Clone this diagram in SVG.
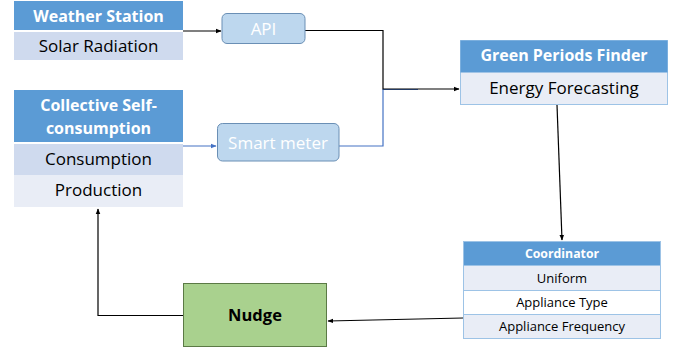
<svg xmlns="http://www.w3.org/2000/svg" width="681" height="347" viewBox="0 0 681 347">
<defs>
<style>
.hd{fill:#5b9bd5}
.r1{fill:#cfdaee}
.r2{fill:#e9edf6}
.t{font-family:"Open Sans","Liberation Sans",sans-serif;font-size:17px;fill:#000;text-anchor:middle}
.tb{font-family:"Open Sans","Liberation Sans",sans-serif;font-size:16px;font-weight:bold;fill:#fff;text-anchor:middle}
.ts{font-family:"Open Sans","Liberation Sans",sans-serif;font-size:13px;fill:#000;text-anchor:middle}
.tsb{font-family:"Open Sans","Liberation Sans",sans-serif;font-size:12.3px;font-weight:bold;fill:#fff;text-anchor:middle}
.rr{fill:#bdd7ee;stroke:#6a8fb5;stroke-width:1}
.tw{font-family:"Open Sans","Liberation Sans",sans-serif;font-size:17px;fill:#fff;text-anchor:middle}
.k{fill:none;stroke:#000;stroke-width:1.2}
.b{fill:none;stroke:#4472c4;stroke-width:1.2}
</style>
<marker id="ak" viewBox="0 0 10 10" refX="9" refY="5" markerWidth="5" markerHeight="5" orient="auto"><path d="M0,1 L10,5 L0,9 z" fill="#000"/></marker>
<marker id="ab" viewBox="0 0 10 10" refX="9" refY="5" markerWidth="5" markerHeight="5" orient="auto"><path d="M0,1 L10,5 L0,9 z" fill="#4472c4"/></marker>
</defs>
<g id="connectors">
<path class="b" d="M183,146 L216,146" marker-end="url(#ab)"/>
<path class="b" d="M339,146 L383,146 L383,89.5 L418,89.5"/>
<path class="k" d="M183,31 L221,31" marker-end="url(#ak)"/>
<path class="k" d="M305,30.5 L383,30.5 L383,89 L459,89" marker-end="url(#ak)"/>
<path class="k" d="M557,105 L562,240" marker-end="url(#ak)"/>
<path class="k" d="M463,318 L328,321" marker-end="url(#ak)"/>
<path class="k" d="M183,315.5 L98,315.5 L98,209" marker-end="url(#ak)"/>
</g>
<g id="weather-station">
<rect class="hd" x="14" y="1" width="169" height="29"/>
<rect class="r1" x="14" y="32" width="169" height="28"/>
<text class="tb" x="98.5" y="22">Weather Station</text>
<text class="t" x="98.5" y="52">Solar Radiation</text>
</g>
<g id="collective-self-consumption">
<rect class="hd" x="14" y="90" width="169" height="52"/>
<rect class="r1" x="14" y="144" width="169" height="31"/>
<rect class="r2" x="14" y="175" width="169" height="32"/>
<text class="tb" x="98.5" y="111">Collective Self-</text>
<text class="tb" x="98.5" y="134">consumption</text>
<text class="t" x="98.5" y="165">Consumption</text>
<text class="t" x="98.5" y="196">Production</text>
</g>
<g id="api">
<rect class="rr" x="222" y="13.5" width="83" height="30" rx="5"/>
<text class="tw" x="263.5" y="34.5">API</text>
</g>
<g id="smart-meter">
<rect class="rr" x="217.5" y="123.5" width="121.5" height="37.5" rx="5"/>
<text class="tw" x="278" y="148.5">Smart meter</text>
</g>
<g id="green-periods-finder">
<rect x="460.5" y="40.5" width="207" height="64" fill="#e9edf6" stroke="#9dc3e6"/>
<rect class="hd" x="460.5" y="40.5" width="207" height="32"/>
<text class="tb" x="564" y="61">Green Periods Finder</text>
<text class="t" x="564" y="94">Energy Forecasting</text>
</g>
<g id="coordinator">
<rect class="hd" x="463.5" y="241.5" width="197" height="24"/>
<rect class="r2" x="463.5" y="265.5" width="197" height="25" stroke="#9dc3e6"/>
<rect x="463.5" y="290.5" width="197" height="24" fill="#fff" stroke="#9dc3e6"/>
<rect class="r2" x="463.5" y="314.5" width="197" height="24" stroke="#9dc3e6"/>
<rect x="463.5" y="241.5" width="197" height="97" fill="none" stroke="#9dc3e6"/>
<text class="tsb" x="562" y="258">Coordinator</text>
<text class="ts" x="562" y="283">Uniform</text>
<text class="ts" x="562" y="307">Appliance Type</text>
<text class="ts" x="562" y="331">Appliance Frequency</text>
</g>
<g id="nudge">
<rect x="183.5" y="283.5" width="143" height="63" fill="#a9d18e" stroke="#5b7a45"/>
<text x="255" y="321" font-family="Open Sans,Liberation Sans,sans-serif" font-size="16.5" font-weight="bold" text-anchor="middle" fill="#000">Nudge</text>
</g>
</svg>
